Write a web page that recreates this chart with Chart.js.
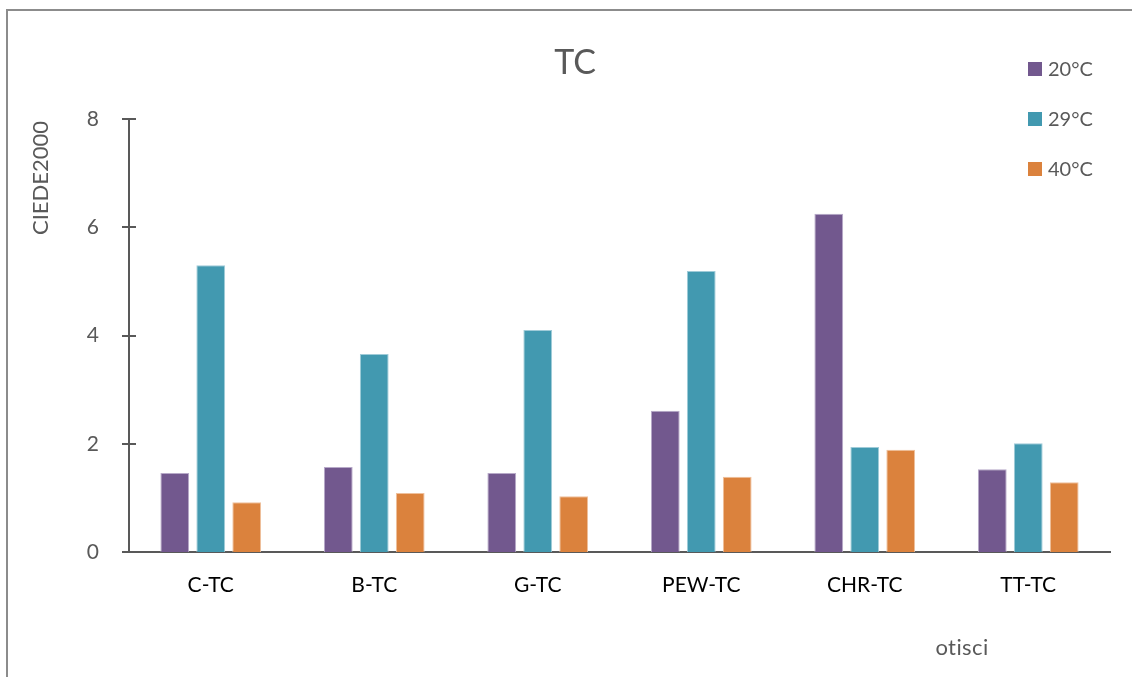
<!DOCTYPE html>
<html>
<head>
<meta charset="utf-8">
<title>TC</title>
<script src="https://cdn.jsdelivr.net/npm/chart.js@4.4.1/dist/chart.umd.min.js"></script>
<style>
  html, body { margin:0; padding:0; background:#fff; overflow:hidden; }
  #wrap { position:relative; width:1132px; height:677px; }
  #frame { position:absolute; left:6px; top:9px; width:1200px; height:800px;
           border-left:2px solid #8c8c8c; border-top:2px solid #8c8c8c; pointer-events:none; }
</style>
</head>
<body>
<div id="wrap">
  <canvas id="chart" width="1132" height="677"></canvas>
  <div id="frame"></div>
</div>
<script>
// data
const categories = ['C-TC', 'B-TC', 'G-TC', 'PEW-TC', 'CHR-TC', 'TT-TC'];
const series20 = [1.46, 1.57, 1.46, 2.61, 6.25, 1.53];
const series29 = [5.30, 3.66, 4.10, 5.19, 1.94, 2.01];
const series40 = [0.92, 1.09, 1.03, 1.39, 1.89, 1.29];
const seriesNames = ['20°C', '29°C', '40°C'];
const yTicks = [0, 2, 4, 6, 8];

const colors = ['#72588e', '#4299b0', '#db823d'];
const edges = ['#b7a9c8', '#9fcbd8', '#efc09c'];
const grey = '#595959';
const font = 'Lato, "Open Sans", sans-serif';

// extra drawing: title, axis titles, crossing ticks, legend
const decor = {
  id: 'decor',
  afterDraw(chart){
    const ctx = chart.ctx;
    const y = chart.scales.y;
    ctx.save();
    // crossing tick marks on the value axis
    ctx.strokeStyle = grey;
    ctx.lineWidth = 2;
    for(const v of yTicks){
      const py = Math.round(y.getPixelForValue(v));
      ctx.beginPath();
      ctx.moveTo(y.right - 7, py);
      ctx.lineTo(y.right + 7, py);
      ctx.stroke();
    }
    ctx.fillStyle = grey;
    // chart title
    ctx.font = `34px ${font}`;
    ctx.textAlign = 'center';
    ctx.textBaseline = 'middle';
    ctx.fillText('TC', 575, 63);
    // x axis title (letterSpacing keeps "ti" from joining)
    ctx.font = `22px ${font}`;
    ctx.letterSpacing = '0.4px';
    ctx.fillText('otisci', 962, 648);
    ctx.letterSpacing = '0px';
    // y axis title
    ctx.save();
    ctx.translate(41, 178);
    ctx.rotate(-Math.PI/2);
    ctx.font = `22px ${font}`;
    ctx.fillText('CIEDE2000', 0, 0);
    ctx.restore();
    // legend
    ctx.font = `20px ${font}`;
    ctx.textAlign = 'left';
    seriesNames.forEach((name, i) => {
      const cy = 69 + i*50;
      ctx.fillStyle = colors[i];
      ctx.fillRect(1028, cy - 7, 14, 14);
      ctx.fillStyle = grey;
      ctx.fillText(name, 1048, cy + 1);
    });
    ctx.restore();
  }
};

const datasets = [series20, series29, series40].map((data, i) => ({
  label: seriesNames[i],
  data,
  backgroundColor: colors[i],
  borderColor: edges[i],
  borderWidth: 1,
  categoryPercentage: 0.66,
  barPercentage: 0.8
}));

new Chart(document.getElementById('chart'), {
  type: 'bar',
  data: { labels: categories, datasets },
  options: {
    responsive: false,
    animation: false,
    layout: { padding: { left: 0, top: 119, right: 22, bottom: 0 } },
    plugins: { legend: { display: false }, title: { display: false }, tooltip: { enabled: false } },
    scales: {
      x: {
        grid: { display: false },
        border: { display: true, color: grey, width: 2 },
        ticks: { color: '#000', font: { family: font, size: 21 }, padding: 13 },
        afterFit(scale){ scale.height = 125; }
      },
      y: {
        min: 0, max: 8,
        afterBuildTicks(scale){ scale.ticks = yTicks.map(v => ({ value: v })); },
        grid: { display: false },
        border: { display: true, color: grey, width: 2 },
        ticks: { color: grey, font: { family: font, size: 21 }, padding: 22 },
        afterFit(scale){ scale.width = 129; }
      }
    }
  },
  plugins: [decor]
});
</script>
</body>
</html>
